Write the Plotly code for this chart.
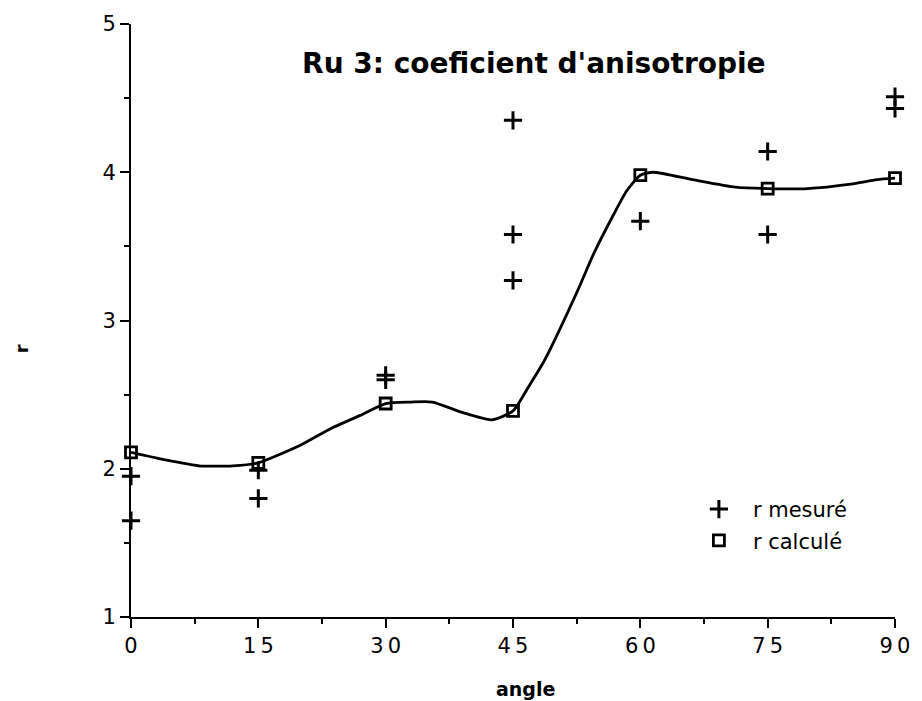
import plotly.graph_objects as go

# Measured anisotropy coefficient r (several specimens per angle)
measured_angle = [0, 0, 15, 15, 30, 30, 45, 45, 45, 60, 75, 75, 90, 90]
measured_r = [1.95, 1.65, 1.99, 1.80, 2.63, 2.60, 4.35, 3.58, 3.27, 3.67, 4.14, 3.58, 4.51, 4.43]

# Calculated r at the nominal angles
calc_angle = [0, 15, 30, 45, 60, 75, 90]
calc_r = [2.11, 2.04, 2.44, 2.39, 3.98, 3.89, 3.96]

# Fitted curve through the calculated values
curve_angle = [0, 4, 8, 12, 15, 20, 23.5, 27, 30, 33, 35.5, 39, 42.5, 45, 46.8,
               48.7, 52.6, 54.5, 56.9, 58.4, 60, 61.5, 66.2, 71.2, 75, 79.7,
               84.8, 87.9, 90]
curve_r = [2.11, 2.06, 2.02, 2.02, 2.04, 2.16, 2.27, 2.36, 2.44, 2.45, 2.45,
           2.38, 2.33, 2.39, 2.55, 2.73, 3.20, 3.45, 3.72, 3.875, 3.98, 4.00,
           3.95, 3.90, 3.89, 3.89, 3.92, 3.95, 3.96]

x_ticks = [0, 15, 30, 45, 60, 75, 90]
x_ticktext = ["\u2009".join(str(v)) for v in x_ticks]
y_ticks = [1, 2, 3, 4, 5]

FONT = "DejaVu Sans, Liberation Sans, Arial, sans-serif"

fig = go.Figure()

fig.add_trace(go.Scatter(
    x=curve_angle, y=curve_r, mode="lines",
    line=dict(color="black", width=2.8, shape="spline", smoothing=0.6),
    showlegend=False, hoverinfo="skip", cliponaxis=False,
))

fig.add_trace(go.Scatter(
    x=measured_angle, y=measured_r, mode="markers", name="r mesuré",
    legendgroup="mes",
    marker=dict(symbol="cross-thin", size=13, color="black",
                line=dict(color="black", width=3)),
    cliponaxis=False,
))

fig.add_trace(go.Scatter(
    x=calc_angle, y=calc_r, mode="markers", name="r calculé",
    legendgroup="calc",
    marker=dict(symbol="square-open", size=11, color="black",
                line=dict(color="black", width=2.8)),
    cliponaxis=False,
))

fig.update_layout(
    width=922, height=701,
    margin=dict(l=131, r=17, t=20, b=84),
    paper_bgcolor="white", plot_bgcolor="white",
    font=dict(family=FONT, color="black", size=21),
    title=dict(text="<b>Ru 3: coeficient d'anisotropie</b>", x=0.579, xanchor="center",
               y=0.91, yanchor="middle",
               font=dict(family=FONT, size=28, color="black")),
    legend=dict(x=0.725, y=0.216, xanchor="left", yanchor="top",
                bgcolor="rgba(0,0,0,0)", font=dict(size=21, family=FONT),
                itemwidth=58, tracegroupgap=1),
    showlegend=True,
    annotations=[
        dict(text="<b>angle</b>", xref="paper", yref="paper",
             x=(531 - 131) / 774, y=-(689 - 617) / 597,
             xanchor="center", yanchor="middle", showarrow=False,
             font=dict(size=19, family=FONT)),
        dict(text="<b>r</b>", xref="paper", yref="paper",
             x=-(131 - 20) / 774, y=(617 - 347) / 597, textangle=-90,
             xanchor="center", yanchor="middle", showarrow=False,
             font=dict(size=18, family=FONT)),
    ],
)

fig.update_xaxes(
    range=[0, 90], tickmode="array", tickvals=x_ticks, ticktext=x_ticktext,
    showgrid=False, zeroline=False,
    showline=True, linecolor="black", linewidth=2,
    ticks="outside", ticklen=9, tickwidth=2, tickcolor="black",
    minor=dict(dtick=7.5, ticks="outside", ticklen=5, tickwidth=2, tickcolor="black", showgrid=False),
    tickfont=dict(size=21, family=FONT),
)

fig.update_yaxes(
    range=[1, 5], tickmode="array", tickvals=y_ticks,
    showgrid=False, zeroline=False,
    showline=True, linecolor="black", linewidth=2,
    ticks="outside", ticklen=9, tickwidth=2, tickcolor="black",
    minor=dict(dtick=0.5, ticks="outside", ticklen=5, tickwidth=2, tickcolor="black", showgrid=False),
    tickfont=dict(size=21, family=FONT),
)

fig.write_html("out.html")
